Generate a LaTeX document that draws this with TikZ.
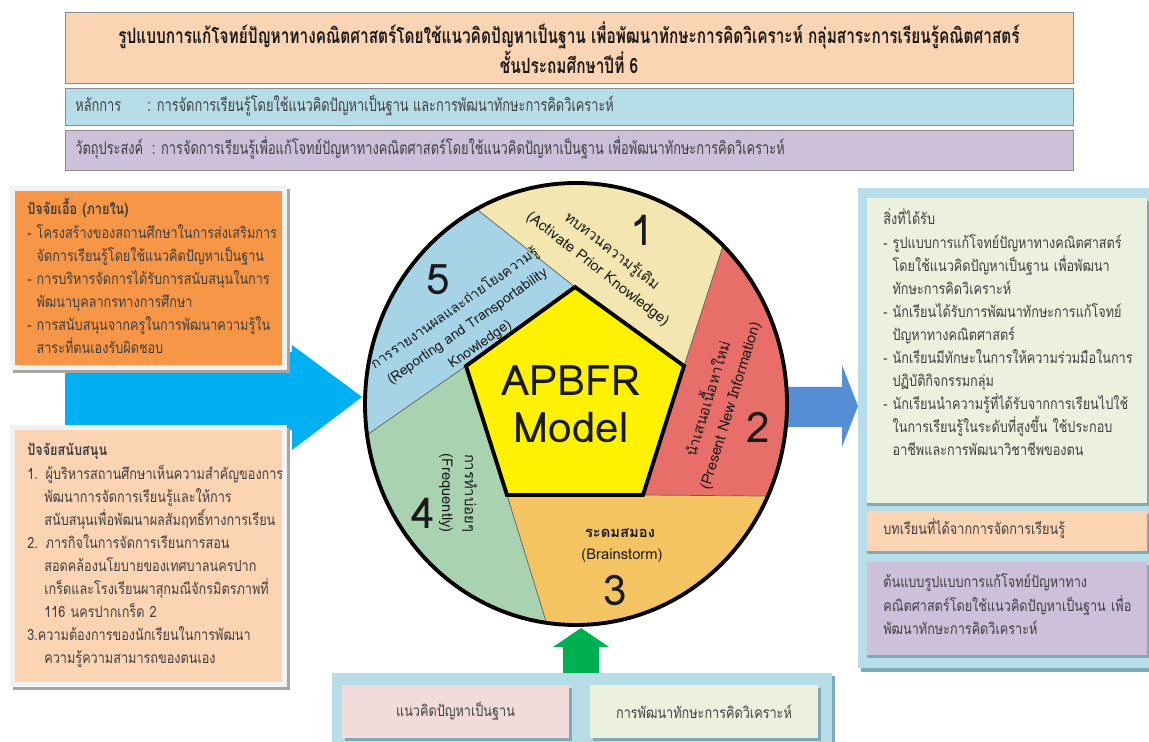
\documentclass[tikz,border=0pt]{standalone}
\usepackage{fontspec}
\setmainfont[Script=Thai]{Loma}
\newfontfamily\thainarrow[Script=Thai,FakeStretch=0.73]{Loma}
\newfontfamily\thaibody[Script=Thai,FakeStretch=0.82]{Loma}
\usetikzlibrary{fit,calc}
\definecolor{ink}        {HTML}{1A1A1A}
\definecolor{inkgray}    {HTML}{404040}
\definecolor{rulegray}   {HTML}{8C8C8C}
\definecolor{shadegray}  {HTML}{A6A6A6}
\definecolor{framewhite} {HTML}{F2F2F2}
\definecolor{peach}      {HTML}{FBD4B4}
\definecolor{skyblue}    {HTML}{B7DDE8}
\definecolor{tealshade}  {HTML}{7FA9B8}
\definecolor{lilac}      {HTML}{CCC0DA}
\definecolor{orangebox}  {HTML}{F79646}
\definecolor{paleolive}  {HTML}{EBF1DE}
\definecolor{palepink}   {HTML}{F2DCDB}
\definecolor{cyanarrow}  {HTML}{00B0F0}
\definecolor{bluearrow}  {HTML}{558ED5}
\definecolor{greenarrow} {HTML}{00B050}
\definecolor{segone}     {HTML}{F3E6B1}
\definecolor{segtwo}     {HTML}{E86F69}
\definecolor{segthree}   {HTML}{F5C462}
\definecolor{segfour}    {HTML}{A9D2B1}
\definecolor{segfive}    {HTML}{A6D3E6}
\definecolor{pentayellow}{HTML}{FFF200}
\tikzset{
  headbox/.style  ={draw=rulegray, line width=0.5pt, inner sep=0pt},
  panel/.style    ={inner sep=0pt},
  bodytext/.style ={anchor=base west, align=left, inner sep=0pt, text width=9cm,
                    text=inkgray, font=\thaibody\fontsize{8.8}{13.1}\selectfont},
  boxlabel/.style ={inner sep=0pt, text=inkgray, font=\thaibody\fontsize{8.8}{12}\selectfont},
  headtext/.style ={anchor=base west, inner sep=0pt, text=inkgray,
                    font=\thainarrow\fontsize{10}{14}\selectfont},
  segtext/.style  ={align=center, inner sep=0pt, text=ink,
                    font=\fontsize{8.4}{13}\selectfont},
  segnum/.style   ={inner sep=0pt, text=ink, font=\fontsize{24}{24}\selectfont},
  divline/.style  ={draw=ink!70, line width=0.4pt},
}

\begin{document}
\begin{tikzpicture}[x=0.02cm, y=-0.02cm]
    \useasboundingbox[fill=white] (0,0) rectangle (1149,742);

    \node[headbox, fill=peach, fit={(65,12) (1073,83)}] (title) {};
    \node[align=center, inner sep=0pt, text=ink, font=\thainarrow\bfseries\fontsize{12}{14.2}\selectfont]
      (titletxt) at (title.center)
      {รูปแบบการแก้โจทย์ปัญหาทางคณิตศาสตร์โดยใช้แนวคิดปัญหาเป็นฐาน เพื่อพัฒนาทักษะการคิดวิเคราะห์ กลุ่มสาระการเรียนรู้คณิตศาสตร์\\ชั้นประถมศึกษาปีที่ 6};
    \node[headbox, fill=skyblue, fit={(65,88) (1073,125)}] (principle) {};
    \node[headtext] (principletxt) at (75,112)
      {หลักการ\quad\ \ : การจัดการเรียนรู้โดยใช้แนวคิดปัญหาเป็นฐาน และการพัฒนาทักษะการคิดวิเคราะห์};
    \node[headbox, fill=lilac, fit={(65,130) (1073,170)}] (objective) {};
    \node[headtext] (objectivetxt) at (75,155)
      {วัตถุประสงค์\ \ : การจัดการเรียนรู้เพื่อแก้โจทย์ปัญหาทางคณิตศาสตร์โดยใช้แนวคิดปัญหาเป็นฐาน เพื่อพัฒนาทักษะการคิดวิเคราะห์};

    \fill[cyanarrow] (65,352) -- (292,352) -- (292,345) -- (362,397)
      -- (292,450) -- (292,430) -- (65,430) -- cycle;
    \fill[bluearrow] (788,387) -- (842,387) -- (842,365) -- (858,406)
      -- (842,447) -- (842,427) -- (788,427) -- cycle;
    \fill[greenarrow] (563,680) -- (563,647) -- (553,647) -- (581,628)
      -- (609,647) -- (599,647) -- (599,680) -- cycle;

    \node[panel, fill=shadegray, fit={(13,189) (290,373)}] (innershd) {};
    \node[panel, fill=framewhite, fit={(10,186) (287,370)}] (innerframe) {};
    \node[panel, fill=orangebox, fit={(15,191) (282,365)}] (inner) {};
    \node[bodytext] (innertxt) at (27,215)
      {\textbf{ปัจจัยเอื้อ (ภายใน)}\\
       - โครงสร้างของสถานศึกษาในการส่งเสริมการ\\
       \hspace*{0.6em}จัดการเรียนรู้โดยใช้แนวคิดปัญหาเป็นฐาน\\
       - การบริหารจัดการได้รับการสนับสนุนในการ\\
       \hspace*{0.6em}พัฒนาบุคลากรทางการศึกษา\\
       - การสนับสนุนจากครูในการพัฒนาความรู้ใน\\
       \hspace*{0.6em}สาระที่ตนเองรับผิดชอบ};

    \node[panel, fill=shadegray, fit={(13,428) (290,690)}] (supportshd) {};
    \node[panel, fill=framewhite, fit={(10,425) (287,687)}] (supportframe) {};
    \node[panel, fill=peach, fit={(15,430) (282,682)}] (support) {};
    \node[bodytext] (supporttxt) at (27,456)
      {\textbf{ปัจจัยสนับสนุน}\\
       1. ผู้บริหารสถานศึกษาเห็นความสำคัญของการ\\
       \hspace*{1.1em}พัฒนาการจัดการเรียนรู้และให้การ\\
       \hspace*{1.1em}สนับสนุนเพื่อพัฒนาผลสัมฤทธิ์ทางการเรียน\\
       2. ภารกิจในการจัดการเรียนการสอน\\
       \hspace*{1.1em}สอดคล้องนโยบายของเทศบาลนครปาก\\
       \hspace*{1.1em}เกร็ดและโรงเรียนผาสุกมณีจักรมิตรภาพที่\\
       \hspace*{1.1em}116 นครปากเกร็ด 2\\
       3.ความต้องการของนักเรียนในการพัฒนา\\
       \hspace*{1.1em}ความรู้ความสามารถของตนเอง};

    \node[panel, fill=tealshade, fit={(861,191) (1149,672)}] (resultshd) {};
    \node[panel, fill=skyblue, fit={(858,188) (1149,668)}] (resultframe) {};
    \node[panel, fill=tealshade, fit={(867,201) (1149,506)}] (gainshd) {};
    \node[panel, fill=paleolive, fit={(867,198) (1147,503)}] (gain) {};
    \node[bodytext] (gaintxt) at (883,225)
      {สิ่งที่ได้รับ\\
       - รูปแบบการแก้โจทย์ปัญหาทางคณิตศาสตร์\\
       \hspace*{0.6em}โดยใช้แนวคิดปัญหาเป็นฐาน เพื่อพัฒนา\\
       \hspace*{0.6em}ทักษะการคิดวิเคราะห์\\
       - นักเรียนได้รับการพัฒนาทักษะการแก้โจทย์\\
       \hspace*{0.6em}ปัญหาทางคณิตศาสตร์\\
       - นักเรียนมีทักษะในการให้ความร่วมมือในการ\\
       \hspace*{0.6em}ปฏิบัติกิจกรรมกลุ่ม\\
       - นักเรียนนำความรู้ที่ได้รับจากการเรียนไปใช้\\
       \hspace*{0.6em}ในการเรียนรู้ในระดับที่สูงขึ้น ใช้ประกอบ\\
       \hspace*{0.6em}อาชีพและการพัฒนาวิชาชีพของตน};
    \node[panel, fill=tealshade, fit={(867,514) (1149,554)}] (lessonshd) {};
    \node[panel, fill=peach, fit={(867,511) (1147,551)}] (lesson) {};
    \node[bodytext] (lessontxt) at (883,535) {บทเรียนที่ได้จากการจัดการเรียนรู้};
    \node[panel, fill=tealshade, fit={(867,565) (1149,658)}] (protoshd) {};
    \node[panel, fill=lilac, fit={(867,562) (1147,655)}] (proto) {};
    \node[bodytext] (prototxt) at (883,588)
      {ต้นแบบรูปแบบการแก้โจทย์ปัญหาทาง\\
       คณิตศาสตร์โดยใช้แนวคิดปัญหาเป็นฐาน เพื่อ\\
       พัฒนาทักษะการคิดวิเคราะห์};

    \node[panel, fill=tealshade, fit={(335,676) (835,742)}] (conceptshd) {};
    \node[panel, fill=skyblue, fit={(332,673) (832,742)}] (conceptframe) {};
    \node[panel, fill=tealshade, fit={(345,688) (572,741)}] (pblshd) {};
    \node[panel, fill=palepink, fit={(342,685) (569,738)}] (pbl) {};
    \node[boxlabel] (pbltxt) at (pbl.center) {แนวคิดปัญหาเป็นฐาน};
    \node[panel, fill=tealshade, fit={(593,688) (821,741)}] (thinkshd) {};
    \node[panel, fill=paleolive, fit={(590,685) (818,738)}] (think) {};
    \node[boxlabel] (thinktxt) at (think.center) {การพัฒนาทักษะการคิดวิเคราะห์};

    \coordinate (cen) at (576,404);
    \coordinate (pA) at (575,287);
    \coordinate (pB) at (684,366);
    \coordinate (pC) at (643,495);
    \coordinate (pD) at (507,495);
    \coordinate (pE) at (466,366);
    \coordinate (fA) at (287,59);
    \coordinate (fB) at (798,15);
    \coordinate (fC) at (1000,498);
    \coordinate (fD) at (618,855);
    \coordinate (fE) at (160,579);
    \begin{scope}
      \clip (cen) ellipse [x radius=211, y radius=221];
      \fill[segone]   (pA) -- (fA) -- (fB) -- (pB) -- cycle;
      \fill[segtwo]   (pB) -- (fB) -- (1000,15) -- (fC) -- (pC) -- cycle;
      \fill[segthree] (pC) -- (fC) -- (1000,855) -- (fD) -- (pD) -- cycle;
      \fill[segfour]  (pD) -- (fD) -- (160,855) -- (fE) -- (pE) -- cycle;
      \fill[segfive]  (pE) -- (fE) -- (160,59) -- (fA) -- (pA) -- cycle;
      \draw[divline] (pA) -- (fA) (pB) -- (fB) (pC) -- (fC) (pD) -- (fD) (pE) -- (fE);
    \end{scope}
    \draw[line width=2.2pt, fill=pentayellow, line join=miter]
      (pA) -- (pB) -- (pC) -- (pD) -- (pE) -- cycle;
    \draw[line width=2.2pt] (cen) ellipse [x radius=211, y radius=221];

    \node[inner sep=0pt, text=ink, align=center, font=\fontsize{24}{26.5}\selectfont]
      (model) at (571,404) {APBFR\\Model};

    \node[segtext, rotate=-38] (s1txt) at (605,260)
      {ทบทวนความรู้เดิม\\(Activate Prior Knowledge)};
    \node[segnum] (s1num) at (642,230) {1};
    \node[segtext, rotate=73] (s2txt) at (718,402)
      {นำเสนอเนื้อหาใหม่\\(Present New Information)};
    \node[segnum] (s2num) at (758,427) {2};
    \node[segtext, font=\bfseries\fontsize{8.4}{11}\selectfont] (s3th) at (620,533) {ระดมสมอง};
    \node[segtext] (s3en) at (622,556) {(Brainstorm)};
    \node[segnum] (s3num) at (615,590) {3};
    \node[segtext, rotate=-90] (s4txt) at (458,493)
      {การทำบ่อยๆ\\(Frequently)};
    \node[segnum] (s4num) at (423,513) {4};
    \node[segtext, rotate=35, font=\fontsize{7.9}{12.5}\selectfont] (s5txt) at (467,326)
      {การรายงานผลและถ่ายโยงความรู้\\(Reporting and Transportability\\Knowledge)};
    \node[segnum] (s5num) at (438,280) {5};
\end{tikzpicture}
\end{document}
